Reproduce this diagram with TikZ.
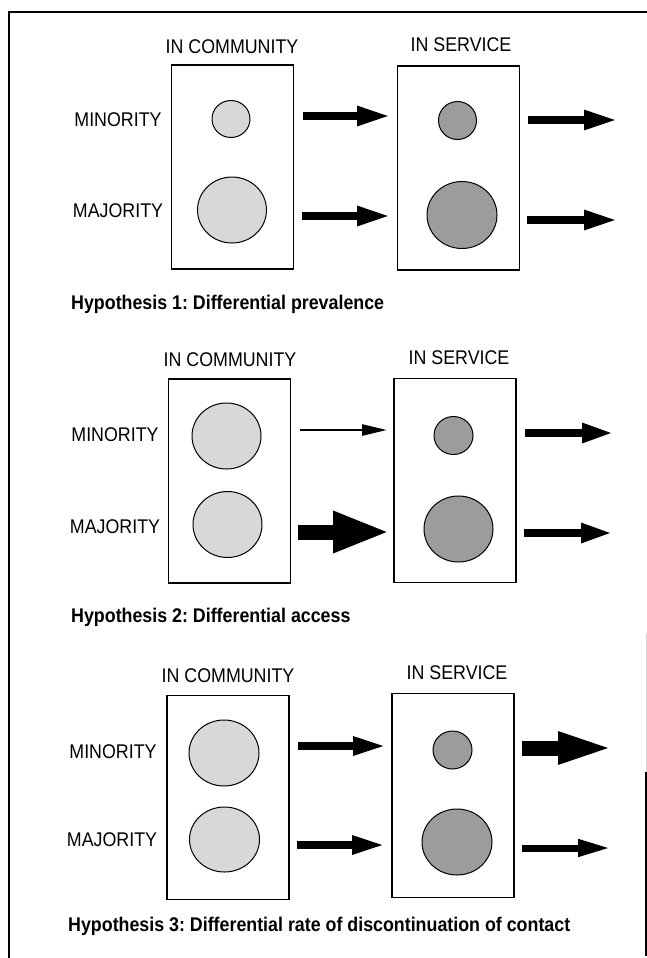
\documentclass[tikz,border=0pt]{standalone}
\usepackage{fontspec}
\setmainfont[FakeStretch=0.9]{Liberation Sans}
\usetikzlibrary{arrows.meta,shapes.geometric}
\definecolor{comm}{RGB}{216,216,216}
\definecolor{serv}{RGB}{156,156,156}
\frenchspacing
\begin{document}
\begin{tikzpicture}[x=1pt,y=-1pt,
  lbl/.style={font=\fontsize{19.8}{22}\selectfont, inner sep=0pt},
  captxt/.style={font=\fontsize{19.8}{22}\selectfont\bfseries, anchor=base west, inner sep=0pt},
  box/.style={draw, line width=1.2pt, inner sep=0pt, minimum width=122pt, minimum height=204pt},
  pop/.style={ellipse, draw, line width=1pt, inner sep=0pt},
  cpop/.style={pop, fill=comm},
  spop/.style={pop, fill=serv},
  flow/.style args={#1/#2/#3}{line width=#1, -{Triangle[length=#2 0 0, width=#3 0 0]}},
]
\useasboundingbox (0,0) rectangle (647,958);
% frame
\coordinate (ftr) at (647,12);
\coordinate (ftl) at (9,12);
\coordinate (fbl) at (9,958);
\coordinate (fr1) at (646,633);
\coordinate (fr2) at (646,772);
\coordinate (fr3) at (646,956);
\draw[line width=1.2pt] (ftr) -- (ftl) -- (fbl);
\draw[gray!35, line width=1pt] (fr1) -- (fr2);
\draw[line width=1.2pt] (fr2) -- (fr3);

% ---------- Panel 1 ----------
\node[lbl] (t1c) at (232,47) {IN COMMUNITY};
\node[lbl] (t1s) at (461,45) {IN SERVICE};
\node[lbl] (l1m) at (118,120) {MINORITY};
\node[lbl] (l1M) at (118,211) {MAJORITY};
\node[box] (b1c) at (232.5,167) {};
\node[box] (b1s) at (458.5,168) {};
\node[cpop, minimum width=38pt, minimum height=37pt] (c1m) at (231,119) {};
\node[cpop, minimum width=69pt, minimum height=66pt] (c1M) at (232,210) {};
\node[spop, minimum width=38pt, minimum height=38pt] (s1m) at (457.5,120.5) {};
\node[spop, minimum width=70pt, minimum height=67pt] (s1M) at (462,215) {};
\coordinate (a1ma) at (303,116); \coordinate (a1mb) at (391,116);
\coordinate (a1Ma) at (302,216); \coordinate (a1Mb) at (391,216);
\coordinate (o1ma) at (528,120); \coordinate (o1mb) at (618,120);
\coordinate (o1Ma) at (527,220); \coordinate (o1Mb) at (618,220);
\draw[flow=8pt/34pt/18pt] (a1ma) -- (a1mb);
\draw[flow=8pt/34pt/18pt] (a1Ma) -- (a1Mb);
\draw[flow=8pt/34pt/18pt] (o1ma) -- (o1mb);
\draw[flow=8pt/34pt/18pt] (o1Ma) -- (o1Mb);
\node[captxt] (h1) at (71,309) {Hypothesis 1: Differential prevalence};

% ---------- Panel 2 ----------
\node[lbl] (t2c) at (230,360) {IN COMMUNITY};
\node[lbl] (t2s) at (459,358) {IN SERVICE};
\node[lbl] (l2m) at (115,435) {MINORITY};
\node[lbl] (l2M) at (115,527) {MAJORITY};
\node[box] (b2c) at (229.5,481) {};
\node[box] (b2s) at (455,480.5) {};
\node[cpop, minimum width=69pt, minimum height=66pt] (c2m) at (226.5,436) {};
\node[cpop, minimum width=69pt, minimum height=66pt] (c2M) at (227.5,524.5) {};
\node[spop, minimum width=39pt, minimum height=38pt] (s2m) at (453.5,435.5) {};
\node[spop, minimum width=69pt, minimum height=66pt] (s2M) at (458.5,529) {};
\coordinate (a2ma) at (300,430); \coordinate (a2mb) at (387,430);
\coordinate (a2Ma) at (298,532); \coordinate (a2Mb) at (390,532);
\coordinate (o2ma) at (525,433); \coordinate (o2mb) at (614,433);
\coordinate (o2Ma) at (524,533); \coordinate (o2Mb) at (613,533);
\draw[flow=2.5pt/25pt/11pt] (a2ma) -- (a2mb);
\draw[flow=15pt/57pt/38pt] (a2Ma) -- (a2Mb);
\draw[flow=8pt/32pt/18pt] (o2ma) -- (o2mb);
\draw[flow=8pt/32pt/18pt] (o2Ma) -- (o2Mb);
\node[captxt] (h2) at (71,622) {Hypothesis 2: Differential access};

% ---------- Panel 3 ----------
\node[lbl] (t3c) at (228,676) {IN COMMUNITY};
\node[lbl] (t3s) at (457,673) {IN SERVICE};
\node[lbl] (l3m) at (113,752) {MINORITY};
\node[lbl] (l3M) at (112,840) {MAJORITY};
\node[box] (b3c) at (228,797.5) {};
\node[box] (b3s) at (453,795.5) {};
\node[cpop, minimum width=70pt, minimum height=66pt] (c3m) at (224,753) {};
\node[cpop, minimum width=70pt, minimum height=65pt] (c3M) at (224.5,839.5) {};
\node[spop, minimum width=39pt, minimum height=38pt] (s3m) at (452.5,750) {};
\node[spop, minimum width=70pt, minimum height=66pt] (s3M) at (457,842) {};
\coordinate (a3ma) at (298,746); \coordinate (a3mb) at (387,746);
\coordinate (a3Ma) at (297,845); \coordinate (a3Mb) at (386,845);
\coordinate (o3ma) at (522,748); \coordinate (o3mb) at (617,748);
\coordinate (o3Ma) at (522,848); \coordinate (o3Mb) at (611,848);
\draw[flow=8pt/34pt/17pt] (a3ma) -- (a3mb);
\draw[flow=8pt/34pt/17pt] (a3Ma) -- (a3Mb);
\draw[flow=15pt/59pt/28pt] (o3ma) -- (o3mb);
\draw[flow=7pt/33pt/16pt] (o3Ma) -- (o3Mb);
\node[captxt] (h3) at (68,931) {Hypothesis 3: Differential rate of discontinuation of contact};
\end{tikzpicture}
\end{document}
